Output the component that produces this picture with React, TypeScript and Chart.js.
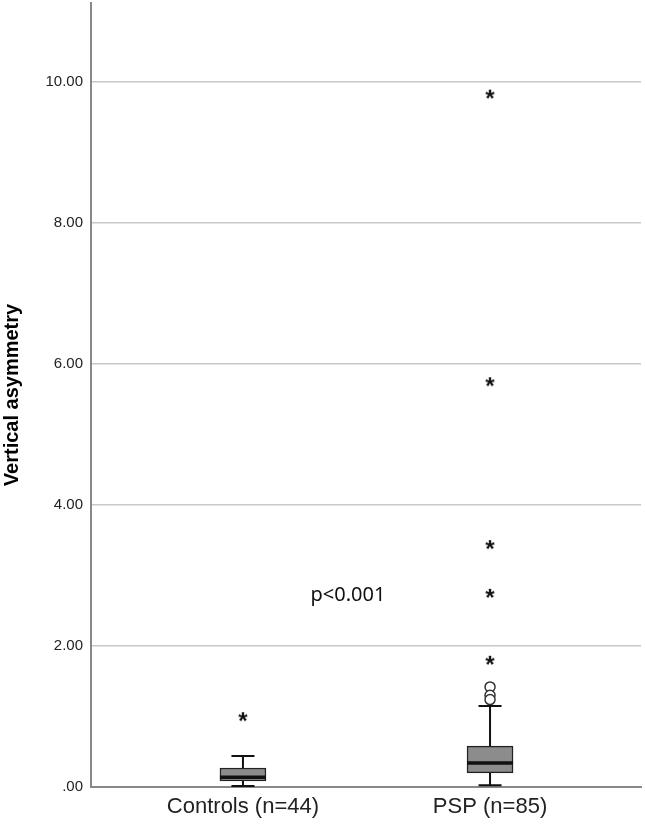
import React, { useEffect, useRef } from "react";
import { Chart, registerables } from "chart.js";
Chart.register(...registerables);

const categories = ["Controls (n=44)", "PSP (n=85)"];
const whiskerLow = [0.0, 0.01];
const q1 = [0.085, 0.2];
const median = [0.14, 0.34];
const q3 = [0.27, 0.58];
const whiskerHigh = [0.44, 1.15];
const circleOutliers = [
  { x: 2, y: 1.42 },
  { x: 2, y: 1.3 },
  { x: 2, y: 1.24 },
];
const starOutliers = [
  { x: 1, y: 0.99 },
  { x: 2, y: 1.79 },
  { x: 2, y: 2.74 },
  { x: 2, y: 3.43 },
  { x: 2, y: 5.74 },
  { x: 2, y: 9.82 },
];
const yTicks = [0, 2, 4, 6, 8, 10];
const annotation = { text: "p<0.001", x: 1.425, y: 2.72 };

function makeStar(): HTMLCanvasElement {
  const c = document.createElement("canvas");
  c.width = 18;
  c.height = 18;
  const g = c.getContext("2d")!;
  g.fillStyle = "#111";
  g.font = "bold 24px Arial";
  g.textAlign = "center";
  g.textBaseline = "middle";
  g.fillText("*", 9, 14);
  return c;
}

const boxPlugin = {
  id: "boxParts",
  afterDatasetsDraw(chart: any) {
    const { ctx, scales } = chart;
    const xs = scales.x;
    const ys = scales.y;
    ctx.save();
    for (let i = 0; i < categories.length; i++) {
      const cx = xs.getPixelForValue(i + 1);
      const half = 23;
      const cap = 11.5;
      ctx.strokeStyle = "#111";
      ctx.lineWidth = 2;
      ctx.beginPath();
      ctx.moveTo(cx, ys.getPixelForValue(q3[i]));
      ctx.lineTo(cx, ys.getPixelForValue(whiskerHigh[i]));
      ctx.moveTo(cx, ys.getPixelForValue(q1[i]));
      ctx.lineTo(cx, ys.getPixelForValue(whiskerLow[i]));
      ctx.moveTo(cx - cap, ys.getPixelForValue(whiskerHigh[i]));
      ctx.lineTo(cx + cap, ys.getPixelForValue(whiskerHigh[i]));
      ctx.moveTo(cx - cap, ys.getPixelForValue(whiskerLow[i]) - 1);
      ctx.lineTo(cx + cap, ys.getPixelForValue(whiskerLow[i]) - 1);
      ctx.stroke();
      ctx.lineWidth = 3.5;
      ctx.beginPath();
      ctx.moveTo(cx - half, ys.getPixelForValue(median[i]));
      ctx.lineTo(cx + half, ys.getPixelForValue(median[i]));
      ctx.stroke();
    }
    ctx.fillStyle = "#111";
    ctx.font = "20px 'Noto Sans'";
    ctx.textAlign = "center";
    ctx.textBaseline = "middle";
    ctx.fillText(
      annotation.text,
      xs.getPixelForValue(annotation.x),
      ys.getPixelForValue(annotation.y)
    );
    ctx.restore();
  },
};

export default function App() {
  const ref = useRef<HTMLCanvasElement>(null);
  useEffect(() => {
    document.body.style.margin = "0";
    const star = makeStar();
    const chart = new Chart(ref.current!, {
      type: "bar",
      data: {
        datasets: [
          {
            type: "bar",
            data: categories.map((_, i) => ({ x: i + 1, y: [q1[i], q3[i]] })) as any,
            backgroundColor: "#8c8c8c",
            borderColor: "#222",
            borderWidth: 1.5,
            borderSkipped: false,
            barThickness: 46,
          } as any,
          {
            type: "scatter",
            data: circleOutliers,
            pointStyle: "circle",
            pointRadius: 5,
            backgroundColor: "#fff",
            borderColor: "#333",
            borderWidth: 1.5,
          } as any,
          {
            type: "scatter",
            data: starOutliers,
            pointStyle: star,
            pointRadius: 6,
          } as any,
        ],
      },
      options: {
        animation: false,
        responsive: false,
        layout: { autoPadding: false, padding: { top: 3, right: 4, left: 0, bottom: 0 } },
        plugins: { legend: { display: false }, tooltip: { enabled: false } },
        scales: {
          x: {
            type: "linear",
            offset: false,
            min: 0.385,
            max: 2.611,
            grid: { display: false, drawTicks: false },
            border: { color: "#888", width: 2 },
            afterBuildTicks: (axis: any) => {
              axis.ticks = categories.map((_, i) => ({ value: i + 1 }));
            },
            afterFit: (axis: any) => {
              axis.height = 37;
              axis.paddingLeft = 0;
              axis.paddingRight = 0;
            },
            ticks: {
              padding: 7,
              maxRotation: 0,
              color: "#222",
              font: { family: "Arial", size: 22 },
              callback: (v: any) => categories[Math.round(v) - 1] ?? "",
            },
          },
          y: {
            type: "linear",
            min: 0,
            max: 11.12,
            grid: { color: "#c8c8c8", lineWidth: 1.5, drawTicks: false },
            border: { color: "#888", width: 2 },
            afterBuildTicks: (axis: any) => {
              axis.ticks = yTicks.map((v) => ({ value: v }));
            },
            afterFit: (axis: any) => {
              axis.width = 91;
              axis.paddingTop = 0;
              axis.paddingBottom = 0;
            },
            title: {
              display: true,
              text: "Vertical asymmetry",
              color: "#000",
              font: { family: "Arial", size: 20, weight: "bold" },
              padding: { top: 0, bottom: 0 },
            },
            ticks: {
              padding: 8,
              color: "#222",
              font: { family: "Arial", size: 15 },
              callback: (v: any) => {
                const s = Number(v).toFixed(2);
                return s.startsWith("0") ? s.slice(1) : s;
              },
            },
          },
        },
      },
      plugins: [boxPlugin],
    });
    return () => chart.destroy();
  }, []);
  return <canvas ref={ref} width={645} height={824} style={{ display: "block" }} />;
}
